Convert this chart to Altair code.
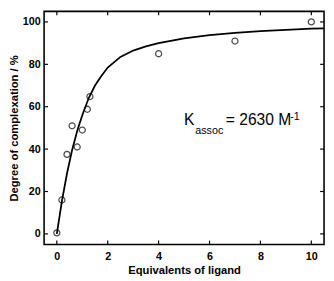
import altair as alt
import pandas as pd

# measured data points
eq_pts = [0.0, 0.2, 0.4, 0.6, 0.8, 1.0, 1.2, 1.3, 4.0, 7.0, 10.0]
deg_pts = [0.5, 16.0, 37.5, 51.0, 41.0, 49.0, 58.8, 64.8, 85.0, 91.0, 100.0]

# fitted curve
eq_fit = [0.0, 0.2, 0.4, 0.6, 0.8, 1.0, 1.25, 1.5, 1.75, 2.0, 2.5, 3.0, 3.5,
          4.0, 5.0, 6.0, 7.0, 8.0, 9.0, 10.0, 10.5]
deg_fit = [0.0, 15.5, 28.5, 39.5, 48.5, 56.0, 64.0, 70.0, 74.5, 78.5, 83.5,
           86.5, 88.5, 90.0, 92.3, 93.8, 94.9, 95.7, 96.3, 96.8, 97.0]

x_ticks = [0, 2, 4, 6, 8, 10]
y_ticks = [0, 20, 40, 60, 80, 100]

ann_text = ["K", "assoc", "= 2630 M", "-1"]
ann_x = [5.0, 5.44, 6.64, 9.17]
ann_y = [51.5, 47.0, 51.5, 53.8]
ann_size = [16, 11, 16, 11]

W, H = 287, 239
TL = 4  # inward tick length

pts = pd.DataFrame({"x": eq_pts, "y": deg_pts})
fit = pd.DataFrame({"x": eq_fit, "y": deg_fit})
ann = pd.DataFrame({"t": ann_text, "x": ann_x, "y": ann_y, "s": ann_size})
xt = pd.DataFrame({"v": x_ticks})
yt = pd.DataFrame({"v": y_ticks})

FONT = "Liberation Sans"
xs = alt.Scale(domain=[-0.5, 10.5], nice=False, zero=False)
ys = alt.Scale(domain=[-5, 105], nice=False, zero=False)

x_axis = alt.Axis(values=x_ticks, title="Equivalents of ligand", domain=False,
                  grid=False, ticks=False, labelPadding=6, labelFont=FONT,
                  labelFontSize=11, labelFontWeight="bold", labelColor="black",
                  titleFont=FONT, titleFontSize=11.5, titleFontWeight="bold",
                  titleColor="black", titlePadding=4)
y_axis = alt.Axis(values=y_ticks, title="Degree of complexation / %",
                  domain=False, grid=False, ticks=False, labelPadding=4,
                  labelFont=FONT, labelFontSize=11, labelFontWeight="bold",
                  labelColor="black", titleFont=FONT, titleFontSize=11.5,
                  titleFontWeight="bold", titleColor="black", titlePadding=3)

line = alt.Chart(fit).mark_line(color="black", strokeWidth=1.8).encode(
    x=alt.X("x:Q", scale=xs, axis=x_axis),
    y=alt.Y("y:Q", scale=ys, axis=y_axis),
)
points = alt.Chart(pts).mark_point(shape="circle", filled=False, color="black",
                                   size=38, strokeWidth=1.3).encode(
    x=alt.X("x:Q", scale=xs), y=alt.Y("y:Q", scale=ys))
text = alt.Chart(ann).mark_text(align="left", baseline="alphabetic",
                                font=FONT, color="black").encode(
    x=alt.X("x:Q", scale=xs), y=alt.Y("y:Q", scale=ys),
    text="t:N", size=alt.Size("s:Q", scale=None, legend=None))

tick_style = dict(color="black", strokeWidth=1.2)
xt_bottom = alt.Chart(xt).mark_rule(**tick_style).encode(
    x=alt.X("v:Q", scale=xs), y=alt.value(H), y2=alt.value(H - TL))
xt_top = alt.Chart(xt).mark_rule(**tick_style).encode(
    x=alt.X("v:Q", scale=xs), y=alt.value(0), y2=alt.value(TL))
yt_left = alt.Chart(yt).mark_rule(**tick_style).encode(
    y=alt.Y("v:Q", scale=ys), x=alt.value(0), x2=alt.value(TL))
yt_right = alt.Chart(yt).mark_rule(**tick_style).encode(
    y=alt.Y("v:Q", scale=ys), x=alt.value(W), x2=alt.value(W - TL))

chart = alt.layer(line, points, text, xt_bottom, xt_top, yt_left, yt_right
).properties(
    width=W, height=H,
    autosize=alt.AutoSizeParams(type="none"),
    padding={"left": 37, "top": 0, "right": 2, "bottom": 34},
).configure_view(stroke="black", strokeWidth=1.6)

chart.save("out.html", embed_options={"renderer": "svg", "actions": False})
